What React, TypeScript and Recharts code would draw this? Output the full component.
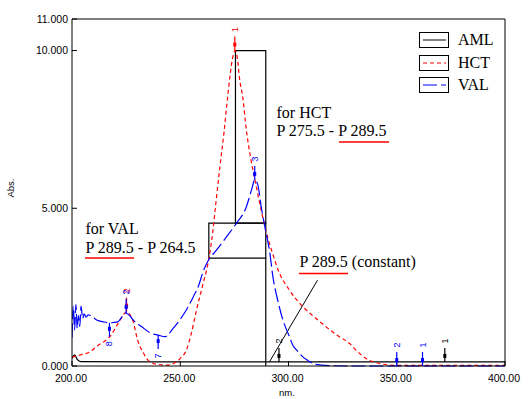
import React from 'react';
import {
  LineChart,
  Line,
  XAxis,
  YAxis,
  ReferenceArea,
  ReferenceLine,
  ReferenceDot,
  Legend,
} from 'recharts';

const nmTicks = [200, 250, 300, 350, 400];
const absTicks = [0, 5, 10, 11];

const amlNm = [200, 201.2, 202.5, 204, 250, 300, 350, 400];
const amlAbs = [0.25, 0.35, 0.2, 0.14, 0.13, 0.13, 0.13, 0.13];

const hctNm = [
  200, 203.7, 208.3, 212.1, 217.5, 221.3, 223.6, 225.2, 226.8, 228.3, 230.3, 233, 236, 240.5, 244,
  248.2, 250, 252.8, 255, 257.5, 260.5, 262.8, 265.1, 266.5, 268.3, 270.2, 272, 274.3, 275.3, 276.3,
  277.4, 278.9, 280.5, 282.5, 284.8, 287.5, 289.7, 292.5, 295.9, 300, 306.6, 312, 317.4, 323, 328.1,
  332, 335.8, 342, 350, 370, 400,
];
const hctAbs = [
  0.28, 0.35, 0.45, 0.66, 0.93, 1.35, 1.61, 1.72, 1.62, 1.4, 0.82, 0.41, 0.13, 0.04, 0.03,
  0.13, 0.24, 0.5, 1.0, 1.77, 2.6, 3.25, 4.3, 5.2, 6.3, 7.4, 8.6, 9.8, 10.0, 9.8,
  9.1, 8.5, 7.5, 6.6, 5.8, 4.9, 4.25, 3.6, 2.93, 2.45, 1.88, 1.55, 1.24, 0.95, 0.72,
  0.45, 0.24, 0.08, 0.02, 0.02, 0.02,
];

const valNm = [
  200, 200.6, 201.2, 201.8, 202.4, 203, 203.6, 204.2, 204.9, 205.6, 206.5, 207.5, 208.3, 211.4, 214.5,
  217.3, 221.2, 223, 224.6, 226.3, 228.2, 232.1, 236.7, 239.8, 242.9, 246.7, 249.8, 253, 256, 258.5,
  260.5, 263, 266.7, 271.3, 275.9, 280.5, 283, 284.4, 285.8, 287.5, 289.7, 291.2, 292.8, 295, 297.4,
  300, 302, 304.5, 306.6, 309, 311.2, 315, 320, 330, 400,
];
const valAbs = [
  0.9, 1.9, 1.15, 1.95, 1.2, 1.6, 1.25, 1.9, 1.5, 1.65, 1.55, 1.62, 1.61, 1.46, 1.4,
  1.37, 1.4, 1.55, 1.68, 1.62, 1.46, 1.25, 1.03, 0.98, 0.93, 1.19, 1.46, 1.8, 2.19, 2.55,
  2.98, 3.35, 3.67, 4.09, 4.52, 5.04, 5.6, 5.9, 5.75, 5.0, 4.2, 3.67, 2.83, 2.09, 1.46,
  1.0, 0.66, 0.45, 0.29, 0.17, 0.08, 0.03, 0.01, 0, 0,
];

// peak picks
const peakNm = [275.2, 225.2, 225.0, 284.4, 217.3, 239.8, 350, 361.9, 372.2, 295.6];
const peakAbs = [10.0, 1.72, 1.68, 5.9, 1.37, 0.98, 0, 0, 0.13, 0.13];
const peakLabel = ['1', '2', '2', '3', '8', '7', '2', '1', '1', '2'];
const peakColor = ['#ff0000', '#ff0000', '#0000ff', '#0000ff', '#0000ff', '#0000ff', '#0000ff', '#0000ff', '#000000', '#000000'];
const peakDown = [false, false, false, false, true, true, false, false, false, false];

const toPoints = (nm: number[], abs: number[]) => nm.map((x, i) => ({ nm: x, abs: abs[i] }));
const amlData = toPoints(amlNm, amlAbs);
const hctData = toPoints(hctNm, hctAbs);
const valData = toPoints(valNm, valAbs);

const sans = '"Liberation Sans", Arial, sans-serif';
const serif = '"Liberation Serif", "Times New Roman", serif';

const PeakMark = (props: any) => {
  const { cx, cy, color, label, down } = props;
  const s = down ? 1 : -1;
  const ly = cy + s * 21;
  return (
    <g>
      <line x1={cx} y1={cy} x2={cx} y2={cy + s * 14} stroke={color} strokeWidth={1.2} />
      <rect x={cx - 1.5} y={cy + s * 6 - 2} width={3} height={4} fill={color} />
      <text
        x={cx}
        y={ly}
        transform={`rotate(-90 ${cx} ${ly})`}
        textAnchor="middle"
        dominantBaseline="central"
        fontSize={9}
        fontFamily={sans}
        fill={color}
      >
        {label}
      </text>
    </g>
  );
};

const LegendBox = (props: any) => {
  const items = props.payload || [];
  return (
    <div style={{ fontFamily: serif, fontSize: 16 }}>
      {items.map((it: any) => (
        <div key={it.value} style={{ display: 'flex', alignItems: 'center', height: 22.5 }}>
          <svg width={30} height={16} style={{ display: 'block' }}>
            <rect x={0.5} y={0.5} width={29} height={15} fill="#fff" stroke="#000" />
            <line
              x1={4}
              x2={27}
              y1={8}
              y2={8}
              stroke={it.color}
              strokeDasharray={it.payload?.strokeDasharray}
            />
          </svg>
          <span style={{ marginLeft: 9, color: '#000', lineHeight: '16px' }}>{it.value}</span>
        </div>
      ))}
    </div>
  );
};

export default function App() {
  return (
    <div style={{ position: 'absolute', left: 0, top: 0, width: 528, height: 399, background: '#fff' }}>
      <LineChart width={528} height={399} margin={{ top: 18, right: 22, bottom: 13, left: 10 }}>
        <XAxis
          dataKey="nm"
          type="number"
          domain={[200, 400]}
          ticks={nmTicks}
          allowDataOverflow
          height={20}
          tickSize={-5}
          tickMargin={14}
          tickFormatter={(v: number) => v.toFixed(2)}
          tick={{ fontSize: 10.5, fontFamily: sans, fill: '#000', dx: -1 }}
          stroke="#000"
        />
        <XAxis
          xAxisId="top"
          orientation="top"
          dataKey="nm"
          type="number"
          domain={[200, 400]}
          ticks={[250, 300, 350]}
          height={1}
          tickSize={-5}
          tickFormatter={() => ''}
          stroke="#000"
        />
        <YAxis
          type="number"
          domain={[0, 11]}
          ticks={absTicks}
          width={62}
          tickSize={-5}
          tickMargin={9}
          tickFormatter={(v: number) => v.toFixed(3)}
          tick={{ fontSize: 10.5, fontFamily: sans, fill: '#000' }}
          stroke="#000"
        />
        <YAxis
          yAxisId="right"
          orientation="right"
          type="number"
          domain={[0, 11]}
          ticks={[5, 10]}
          width={1}
          tickSize={-5}
          tickFormatter={() => ''}
          stroke="#000"
        />
        <ReferenceArea x1={275.5} x2={289.5} y1={4.53} y2={10} fill="none" stroke="#000" strokeWidth={1.2} ifOverflow="visible" />
        <ReferenceArea x1={263.2} x2={289.5} y1={3.42} y2={4.53} fill="none" stroke="#000" strokeWidth={1.2} ifOverflow="visible" />
        <ReferenceLine segment={[{ x: 289.5, y: 0 }, { x: 289.5, y: 3.42 }]} stroke="#000" strokeWidth={1.2} />
        <ReferenceLine segment={[{ x: 291.2, y: 0.13 }, { x: 313.4, y: 2.72 }]} stroke="#000" />
        <Line data={amlData} dataKey="abs" name="AML" type="monotone" stroke="#000000" strokeWidth={1.3} dot={false} isAnimationActive={false} />
        <Line data={hctData} dataKey="abs" name="HCT" type="monotone" stroke="#ff0000" strokeDasharray="4 3" strokeWidth={1.2} dot={false} isAnimationActive={false} />
        <Line data={valData} dataKey="abs" name="VAL" type="monotone" stroke="#0000ff" strokeDasharray="14 4" strokeWidth={1.2} dot={false} isAnimationActive={false} />
        {peakNm.map((x, i) => (
          <ReferenceDot
            key={`pk-${i}`}
            x={x}
            y={peakAbs[i]}
            ifOverflow="visible"
            shape={(p: any) => (
              <PeakMark cx={p.cx} cy={p.cy} color={peakColor[i]} label={peakLabel[i]} down={peakDown[i]} />
            )}
          />
        ))}
        <Legend
          layout="vertical"
          align="center"
          verticalAlign="middle"
          content={<LegendBox />}
          wrapperStyle={{ position: 'absolute', left: 419, top: 29, width: 90, height: 70 }}
        />
      </LineChart>
      <svg width={528} height={399} style={{ position: 'absolute', left: 0, top: 0, pointerEvents: 'none' }}>
        <g fontFamily={serif} fontSize={16} fill="#000">
          <text x={276.5} y={117.5}>for HCT</text>
          <text x={276.5} y={136}>P 275.5 - P 289.5</text>
          <text x={85.5} y={234}>for VAL</text>
          <text x={85.5} y={252.5}>P 289.5 - P 264.5</text>
          <text x={299.5} y={266.5}>P 289.5 (constant)</text>
        </g>
        <g stroke="#ff0000" strokeWidth={1.4}>
          <line x1={339} x2={389} y1={142} y2={142} />
          <line x1={85} x2={134} y1={258} y2={258} />
          <line x1={299} x2={348} y1={273.5} y2={273.5} />
        </g>
        <text x={10} y={188} transform="rotate(-90 10 188)" textAnchor="middle" dominantBaseline="central" fontFamily={sans} fontSize={9.5} fill="#000">
          Abs.
        </text>
        <text x={287} y={395.5} textAnchor="middle" fontFamily={sans} fontSize={9.5} fill="#000">
          nm.
        </text>
      </svg>
    </div>
  );
}
